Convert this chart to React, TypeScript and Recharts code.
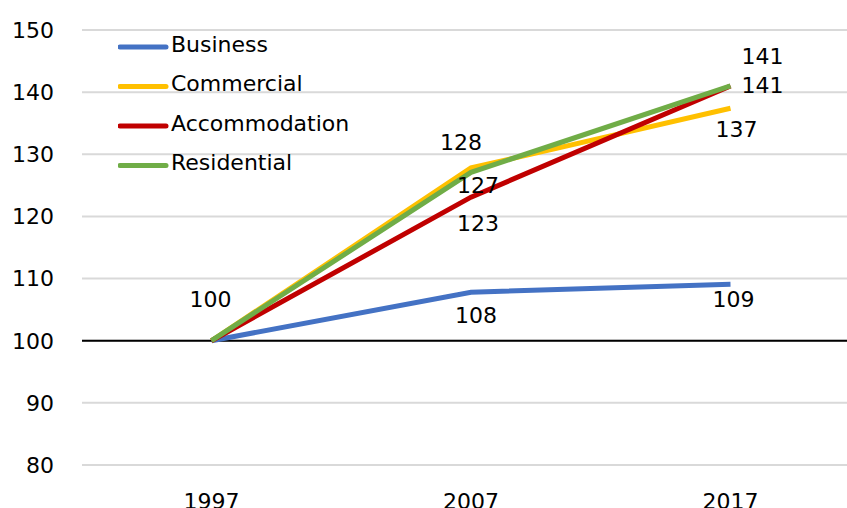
import React from "react";
import {
  CartesianGrid,
  LabelList,
  Legend,
  Line,
  LineChart,
  ReferenceLine,
  XAxis,
  YAxis,
} from "recharts";

const years = ["1997", "2007", "2017"];
const business = [100, 107.8, 109.1];
const commercial = [100, 127.8, 137.4];
const accommodation = [100, 123.1, 141];
const residential = [100, 127.1, 141];
const yTicks = [80, 90, 100, 110, 120, 130, 140, 150];

const FONT = "'DejaVu Sans', Verdana, sans-serif";

const series = [
  { key: "business", name: "Business", color: "#4472C4", values: business },
  { key: "commercial", name: "Commercial", color: "#FFC000", values: commercial },
  { key: "accommodation", name: "Accommodation", color: "#C00000", values: accommodation },
  { key: "residential", name: "Residential", color: "#70AD47", values: residential },
];

const data = years.map((year, i) => {
  const row: Record<string, string | number> = { year };
  series.forEach((s) => (row[s.key] = s.values[i]));
  return row;
});

// hand-placed label offsets (dx, dy from the point), null = no label
const labelOffsets: Record<string, ([number, number] | null)[]> = {
  business: [[-1, -41], [5, 23], [3, 15]],
  commercial: [null, [-10, -25], [6, 21]],
  accommodation: [null, [7, 26], [32, -29]],
  residential: [null, [7, 13], [32, 0]],
};

const makeLabel = (key: string) => (props: any) => {
  const { x, y, value, index } = props;
  const off = labelOffsets[key][index];
  if (!off) return null;
  return (
    <text
      x={x + off[0]}
      y={y + off[1]}
      textAnchor="middle"
      dominantBaseline="central"
      fontSize={22}
      fontFamily={FONT}
      fill="#000"
    >
      {Math.round(value)}
    </text>
  );
};

const LegendBox = () => (
  <svg width={260} height={160}>
    {series.map((s, i) => (
      <g key={s.key}>
        <line
          x1={2}
          x2={48}
          y1={23 + i * 39.5}
          y2={23 + i * 39.5}
          stroke={s.color}
          strokeWidth={5}
          strokeLinecap="round"
        />
        <text
          x={53}
          y={20 + i * 39.5}
          dominantBaseline="central"
          fontSize={22}
          fontFamily={FONT}
          fill="#000"
        >
          {s.name}
        </text>
      </g>
    ))}
  </svg>
);

export default function App() {
  return (
    <div
      style={{
        position: "fixed",
        left: 0,
        top: 0,
        width: 847,
        height: 508,
        overflow: "hidden",
        background: "#fff",
      }}
    >
      <LineChart
        width={860}
        height={508}
        data={data}
        margin={{ top: 30, right: 0, left: 0, bottom: 0 }}
      >
        <CartesianGrid vertical={false} stroke="#d9d9d9" strokeWidth={2} />
        <XAxis
          dataKey="year"
          axisLine={false}
          tickLine={false}
          height={43}
          tickMargin={22}
          padding={{ left: 129.5, right: 129.5 }}
          tick={{ fill: "#000", fontSize: 22, fontFamily: FONT }}
        />
        <YAxis
          domain={[80, 150]}
          ticks={yTicks}
          width={82}
          axisLine={false}
          tickLine={false}
          tickSize={0}
          tickMargin={28}
          tick={{ fill: "#000", fontSize: 22, fontFamily: FONT }}
        />
        <ReferenceLine y={100} stroke="#000" strokeWidth={2} />
        <Legend
          layout="horizontal"
          verticalAlign="middle"
          align="center"
          wrapperStyle={{ top: 24, left: 118, width: 260, height: 160 }}
          content={() => <LegendBox />}
        />
        {series.map((s) => (
          <Line
            key={s.key}
            type="linear"
            dataKey={s.key}
            name={s.name}
            stroke={s.color}
            strokeWidth={5}
            dot={false}
            activeDot={false}
            isAnimationActive={false}
          >
            <LabelList dataKey={s.key} content={makeLabel(s.key)} />
          </Line>
        ))}
      </LineChart>
    </div>
  );
}
